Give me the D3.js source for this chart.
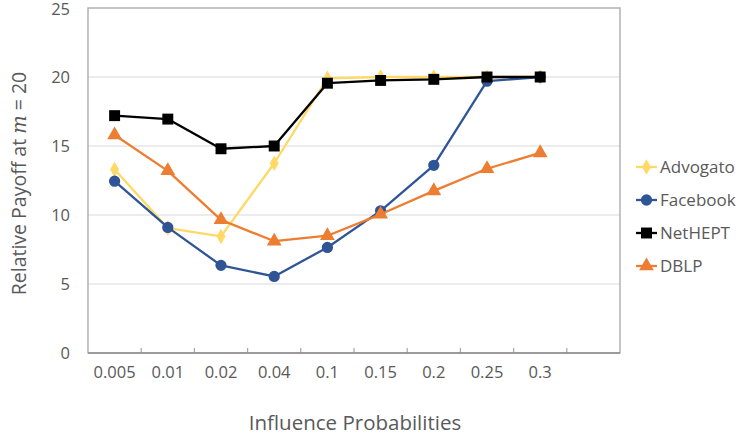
<!DOCTYPE html>
<html><head><meta charset="utf-8">
<script src="https://cdn.jsdelivr.net/npm/d3@7/dist/d3.min.js"></script>
<style>
html,body{margin:0;padding:0;background:#fff;}
svg text{font-family:"Open Sans",sans-serif;fill:#595959;}
</style></head>
<body><svg id="c" width="740" height="436"></svg>
<script>
const categories = ["0.005","0.01","0.02","0.04","0.1","0.15","0.2","0.25","0.3",""];
const advogato = [13.3, 9.05, 8.45, 13.75, 19.9, 20.0, 20.0, 20.0, 20.0];
const facebook = [12.45, 9.1, 6.35, 5.55, 7.65, 10.3, 13.6, 19.7, 20.0];
const nethept  = [17.2, 16.95, 14.8, 15.0, 19.55, 19.75, 19.83, 20.0, 20.0];
const dblp     = [15.8, 13.2, 9.65, 8.1, 8.5, 10.05, 11.75, 13.35, 14.5];
const yTicks = [0,5,10,15,20,25];

const series = [
  {name:"Advogato", values:advogato, color:"#FFD966", marker:"diamond"},
  {name:"Facebook", values:facebook, color:"#2F5597", marker:"circle"},
  {name:"NetHEPT",  values:nethept,  color:"#000000", marker:"square"},
  {name:"DBLP",     values:dblp,     color:"#ED7D31", marker:"triangle"}
];

const svg = d3.select("#c");
const L=88, R=620, T=8, B=353;
const x = d3.scaleBand().domain(categories).range([L,R]);
const y = d3.scaleLinear().domain([0,25]).range([B,T]);

// gridlines
svg.append("g").selectAll("line").data(yTicks.filter(d=>d>0&&d<25)).join("line")
  .attr("x1",L).attr("x2",R).attr("y1",d=>y(d)).attr("y2",d=>y(d))
  .attr("stroke","#D9D9D9").attr("stroke-width",1.2);

// border
svg.append("rect").attr("x",L).attr("y",T).attr("width",R-L).attr("height",B-T)
  .attr("fill","none").attr("stroke","#A6A6A6").attr("stroke-width",1.3);

// x ticks (inside, at boundaries)
svg.append("g").selectAll("line").data(categories.slice(1)).join("line")
  .attr("x1",d=>x(d)).attr("x2",d=>x(d)).attr("y1",B).attr("y2",B-5)
  .attr("stroke","#A6A6A6").attr("stroke-width",1.2);
svg.append("line").attr("x1",L).attr("x2",R).attr("y1",B).attr("y2",B).attr("stroke","#8C8C8C").attr("stroke-width",1.5);

// x labels
svg.append("g").selectAll("text").data(categories.filter(d=>d!=="")).join("text")
  .attr("x",d=>x(d)+x.bandwidth()/2).attr("y",378).attr("text-anchor","middle")
  .attr("font-size",16.5).text(d=>d);

// y labels
svg.append("g").selectAll("text").data(yTicks).join("text")
  .attr("x",70).attr("y",d=>Math.max(y(d)+6,15)).attr("text-anchor","end")
  .attr("font-size",16.5).text(d=>d);

// axis titles
svg.append("text").attr("x",355).attr("y",430).attr("text-anchor","middle")
  .attr("font-size",20.5).text("Influence Probabilities");
const yt = svg.append("text").attr("transform",`translate(26,${(T+B)/2+3}) rotate(-90)`)
  .attr("text-anchor","middle").attr("font-size",19.5);
yt.append("tspan").text("Relative Payoff at ");
yt.append("tspan").attr("font-family","'DejaVu Serif',serif").attr("font-style","italic").text("m");
yt.append("tspan").text(" = 20");

function markerPath(type){
  switch(type){
    case "diamond": return d3.symbol(d3.symbolDiamond, 70)();
    case "circle": return d3.symbol(d3.symbolCircle, 100)();
    case "square": return d3.symbol(d3.symbolSquare, 120)();
    case "triangle": return d3.symbol(d3.symbolTriangle, 95)();
  }
}

const line = d3.line().x((d,i)=>x(categories[i])+x.bandwidth()/2).y(d=>y(d));
series.forEach(s=>{
  const g = svg.append("g");
  g.append("path").attr("d",line(s.values)).attr("fill","none")
    .attr("stroke",s.color).attr("stroke-width",2.3).attr("stroke-linejoin","round");
  g.selectAll("path.m").data(s.values).join("path").attr("class","m")
    .attr("d",markerPath(s.marker))
    .attr("transform",(d,i)=>`translate(${x(categories[i])+x.bandwidth()/2},${y(d)})`)
    .attr("fill",s.color);
});

// legend
const legY = [167, 200, 233, 266];
series.forEach((s,i)=>{
  const g = svg.append("g").attr("transform",`translate(636,${legY[i]})`);
  g.append("line").attr("x1",0).attr("x2",21).attr("y1",0).attr("y2",0)
    .attr("stroke",s.color).attr("stroke-width",2.3);
  g.append("path").attr("d",markerPath(s.marker)).attr("transform","translate(10.5,0)").attr("fill",s.color);
  g.append("text").attr("x",24).attr("y",6).attr("font-size",17).text(s.name);
});
</script></body></html>
